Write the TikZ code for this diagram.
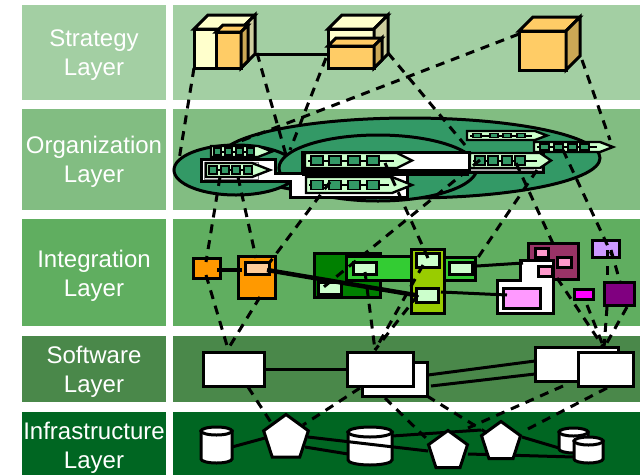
\documentclass[tikz,border=0pt]{standalone}
\usepackage{fontspec}
\setmainfont{Liberation Sans}
\usetikzlibrary{shapes.geometric,calc}
\definecolor{strategyc}{HTML}{A3CFA3}
\definecolor{orgc}{HTML}{82BD82}
\definecolor{integc}{HTML}{60AE60}
\definecolor{softc}{HTML}{4A884A}
\definecolor{infrac}{HTML}{006622}
\definecolor{ellipc}{HTML}{339966}
\definecolor{palec}{HTML}{CCFFCC}
\definecolor{creamc}{HTML}{FFFFCC}
\definecolor{creamd}{HTML}{CFCF9F}
\definecolor{goldc}{HTML}{FFCC66}
\definecolor{goldd}{HTML}{CCA855}
\definecolor{orangec}{HTML}{FF9900}
\definecolor{peachc}{HTML}{FFCC99}
\definecolor{darkgc}{HTML}{008000}
\definecolor{brightgc}{HTML}{33CC33}
\definecolor{limec}{HTML}{99CC00}
\definecolor{maroonc}{HTML}{993366}
\definecolor{pinkc}{HTML}{FF99CC}
\definecolor{orchidc}{HTML}{FF99FF}
\definecolor{lilacc}{HTML}{CC99FF}
\definecolor{magc}{HTML}{FF00FF}
\definecolor{plumc}{HTML}{800080}
\tikzset{
  layerlabel/.style={text=white,align=center,font=\fontsize{24}{29.5}\selectfont},
  band/.style={inner sep=0,outer sep=0},
  block/.style={draw=black,line width=3pt,inner sep=0,outer sep=0},
  chainsq/.style={draw=black,fill=ellipc,line width=1.8pt,inner sep=0,outer sep=0},
  trace/.style={draw=black,line width=3pt,dash pattern=on 9pt off 7pt},
  link/.style={draw=black,line width=3pt},
  thicklink/.style={draw=black,line width=4.5pt},
  pent/.style={regular polygon,regular polygon sides=5,block,fill=white},
}
\newcommand{\boxnode}[6]{\node[#2,anchor=north west,minimum width={#5-#3},minimum height={#6-#4}] (#1) at (#3,#4) {};}
\newcommand{\cubenode}[8]{%
  \boxnode{#1}{block,fill=#7}{#2}{#3}{#4}{#5}
  \draw[block,fill=#7] (#1.north west) -- ++(#6,-#6) -| ($(#1.north east)+(#6,-#6)$) -- (#1.north east) -- cycle;
  \draw[block,fill=#8] (#1.north east) -- ++(#6,-#6) -- ++(0,{#5-#3}) -- (#1.south east) -- cycle;}
\newcommand{\procchain}[9]{%
  \coordinate (#1) at (#2,{(#3+#4)/2});
  \draw[block,line width=2.4pt,fill=palec] (#2,#3) -- (#5,#3) -- (#6,{(#3+#4)/2}) -- (#5,#4) -- (#2,#4) -- cycle;
  \draw[black,line width=2pt] (#2,{(#3+#4)/2}) ++(3,0) -- ({#5-3},{(#3+#4)/2});
  \foreach \sqx in {#7}
    \node[chainsq,anchor=west,minimum width=#8,minimum height=#9] at (\sqx,{(#3+#4)/2}) {};}
% name, left, top, right, bottom, rim height
\newcommand{\storenode}[6]{%
  \boxnode{#1}{band}{#2}{#3}{#4}{#5}
  \draw[block,fill=white] (#2,{#3+#6}) -- (#2,{#5-#6})
    arc[start angle=180,end angle=0,x radius={(#4-#2)/2},y radius=#6] -- (#4,{#3+#6}) -- cycle;
  \draw[block,fill=white] ({(#2+#4)/2},{#3+#6}) ellipse[x radius={(#4-#2)/2},y radius=#6];}
\begin{document}
\begin{tikzpicture}[x=1pt,y=-1pt]
\useasboundingbox (0,0) rectangle (640,475);
% layer bands
\boxnode{stratL}{band,fill=strategyc}{22}{5}{166}{100}
\boxnode{stratR}{band,fill=strategyc}{173}{5}{640}{100}
\boxnode{orgL}{band,fill=orgc}{22}{109}{166}{210}
\boxnode{orgR}{band,fill=orgc}{173}{109}{640}{210}
\boxnode{integL}{band,fill=integc}{22}{219}{166}{326}
\boxnode{integR}{band,fill=integc}{173}{219}{640}{326}
\boxnode{softL}{band,fill=softc}{22}{336}{166}{402}
\boxnode{softR}{band,fill=softc}{173}{336}{640}{402}
\boxnode{infraL}{band,fill=infrac}{22}{412}{166}{475}
\boxnode{infraR}{band,fill=infrac}{173}{412}{640}{475}
\node[layerlabel] (stratT) at (94,55) {Strategy\\Layer};
\node[layerlabel] (orgT) at (94,162) {Organization\\Layer};
\node[layerlabel] (integT) at (94,276) {Integration\\Layer};
\node[layerlabel] (softT) at (94,372) {Software\\Layer};
\node[layerlabel] (infraT) at (94,448) {Infrastructure\\Layer};
% strategy
\cubenode{cubeA}{194}{29}{241}{68}{14}{creamc}{creamd}
\cubenode{cubeAin}{216}{32}{241}{68}{7}{goldc}{goldd}
\cubenode{cubeB}{328}{29}{374}{68}{14}{creamc}{creamd}
\cubenode{cubeBin}{328}{46}{374}{68}{8}{goldc}{goldd}
\cubenode{cubeC}{519}{31}{566}{70}{14}{goldc}{goldd}
\coordinate (cubeArear) at (255,54);
\draw[link] (cubeArear) -- (cubeB.west |- cubeArear);
% organization
\node[ellipse,block,fill=ellipc,minimum width=380,minimum height=80] (orgbig) at (410,158) {};
\node[ellipse,block,fill=ellipc,minimum width=124,minimum height=50] (orgleft) at (236,170) {};
\node[ellipse,block,fill=ellipc,minimum width=198,minimum height=66] (orgmid) at (378,168) {};
\boxnode{groupup}{block,fill=white}{302}{152}{469}{172}
\draw[block,fill=white] (201,159) -- (275,159) -- (275,173) -- (407,173) -- (407,197) -- (290,197) -- (290,181) -- (201,181) -- cycle;
\fill[black] (302,169) rectangle (469,176);
\boxnode{chainBback}{draw=gray,line width=1pt,inner sep=0}{203.5}{161.5}{258}{179}
\boxnode{chainGback}{block,fill=gray!60}{469}{153}{543}{172}
\fill[white] (534,166) rectangle (541,170);
\procchain{chainA}{211}{146}{157}{258}{272}{214,225,236,247}{7}{7}
\procchain{chainB}{206}{163}{177}{252}{270}{209,221,232,244}{8}{8}
\procchain{chainC}{305}{153}{168}{397}{412}{311,329,348,367}{12}{9}
\procchain{chainD}{306}{177}{193}{392}{412}{311,329,348,367}{12}{9}
\procchain{chainE}{467}{131}{140}{535}{547}{473,490,503,517}{8}{4}
\procchain{chainF}{534}{142}{152}{600}{613}{540,554,568,580}{9}{6}
\procchain{chainG}{470}{153}{168}{540}{551}{475,488,502,515}{10}{9}
% integration
\boxnode{orangeS}{block,fill=orangec}{193}{258}{220}{278}
\boxnode{orangeB}{block,fill=orangec}{238}{256}{275}{298}
\boxnode{orangeIn}{block,fill=peachc}{245}{262}{269}{274}
\boxnode{greenD}{block,fill=darkgc}{314}{253}{380}{297}
\boxnode{greenB}{block,fill=brightgc}{346}{256}{414}{280}
\boxnode{greenIn}{block,fill=palec}{353}{262}{376}{274}
\boxnode{greenLow}{block,fill=palec}{318}{282}{341}{294}
\boxnode{limeB}{block,fill=limec}{411}{249}{444}{313}
\boxnode{limeA}{block,fill=palec}{416}{253}{439}{267}
\boxnode{limeC}{block,fill=palec}{416}{288}{438}{302}
\boxnode{greenR}{block,fill=brightgc}{444}{257}{475}{280}
\boxnode{greenRin}{block,fill=palec}{449}{262}{472}{274}
\boxnode{maroon}{block,fill=maroonc}{528}{243}{578}{279}
\boxnode{pinkA}{block,fill=pinkc}{535}{248}{548}{257}
\boxnode{pinkB}{block,fill=pinkc}{557}{257}{571}{267}
\draw[block,fill=white] (520,260) -- (553,260) -- (553,313) -- (497,313) -- (497,280) -- (520,280) -- cycle;
\boxnode{pinkC}{block,fill=pinkc}{538}{266}{552}{276}
\boxnode{pinkD}{block,fill=orchidc}{503}{288}{540}{308}
\boxnode{violetb}{block,fill=lilacc}{592}{240}{619}{257}
\boxnode{magbox}{block,fill=magc}{574}{289}{593}{299}
\boxnode{plumbox}{block,fill=plumc}{604}{282}{634}{305}
\coordinate (orangeSend) at (217,270);
\coordinate (orangeInL) at (242,270);
\coordinate (orangeInR) at (267,270);
\coordinate (limeCL) at (415,295);
\coordinate (limeCR) at (441,292);
\coordinate (pinkDL) at (507,295);
\coordinate (greenRR) at (477,266);
\coordinate (whiteTop) at (523,263);
\draw[thicklink] (orangeSend) -- (orangeInL);
\draw[thicklink] (orangeInR) -- (limeCL);
\draw[link] (limeCR) -- (pinkDL);
\draw[link] (greenRR) -- (whiteTop);
% software
\boxnode{softA}{block,fill=white}{203}{352}{264}{386}
\boxnode{softBback}{block,fill=white}{362}{362}{427}{396}
\boxnode{softB}{block,fill=white}{347}{352}{413}{386}
\boxnode{softCback}{block,fill=white}{535}{347}{618}{381}
\boxnode{softC}{block,fill=white}{578}{352}{633}{386}
\coordinate (softBR) at (428,375);
\coordinate (softBL) at (431,386);
\coordinate (softCa) at (535,361);
\coordinate (softCb) at (535,374);
\draw[link] (softA) -- (softB);
\draw[link] (softBR) -- (softCa);
\draw[link] (softBL) -- (softCb);
% infrastructure
\coordinate (pentAr) at (308,437);
\coordinate (pentAq) at (305,447);
\coordinate (pentBl) at (428,451);
\coordinate (storeBl) at (348,454);
\coordinate (storeBr) at (392,436);
\coordinate (pentCl) at (481,430);
\coordinate (pentBr) at (468,454);
\coordinate (storeDl) at (574,457);
\coordinate (pentCr) at (522,437);
\coordinate (storeCl) at (559,448);
\coordinate (storeAr) at (232,447);
\coordinate (pentAl) at (265,438);
\draw[link] (storeAr) -- (pentAl);
\draw[link] (pentAq) -- (storeBl);
\draw[link] (storeBr) -- (pentCl);
\draw[link] (pentBr) -- (storeDl);
\draw[link] (pentCr) -- (storeCl);
\storenode{storeA}{201}{427}{232}{463}{4}
\storenode{storeB}{348}{427}{392}{465}{5}
\draw[link] (pentAr) -- (pentBl);
\node[pent,minimum size=47] (pentA) at (286,438) {};
\node[pent,minimum size=41] (pentB) at (448,451) {};
\node[pent,minimum size=41] (pentC) at (501,442) {};
\storenode{storeC}{559}{428}{588}{453}{4}
\storenode{storeD}{574}{437}{603}{463}{4}
% dashed traces
\coordinate (t01) at (194,68);   \coordinate (t02) at (179,160);
\coordinate (t03) at (257,53);   \coordinate (t04) at (286,155);
\coordinate (t05) at (326,58);   \coordinate (t06) at (290,150);
\coordinate (t07) at (519,34);   \coordinate (t08) at (233,144);
\coordinate (t09) at (388,53);   \coordinate (t10) at (465,145);
\coordinate (t11) at (582,60);   \coordinate (t12) at (610,140);
\coordinate (t13) at (220,177);  \coordinate (t14) at (206,262);
\coordinate (t15) at (206,275);  \coordinate (t16) at (228,349);
\coordinate (t17) at (238,177);  \coordinate (t18) at (256,258);
\coordinate (t19) at (260,297);  \coordinate (t20) at (330,182);
\coordinate (t21) at (270,262);  \coordinate (t22) at (385,163);
\coordinate (t23) at (428,258);  \coordinate (t24) at (480,160);
\coordinate (t25) at (320,290);  \coordinate (t26) at (516,163);
\coordinate (t27) at (555,248);  \coordinate (t28) at (537,170);
\coordinate (t29) at (475,262);  \coordinate (t30) at (563,150);
\coordinate (t31) at (612,255);  \coordinate (t32) at (423,265);
\coordinate (t33) at (375,350);  \coordinate (t34) at (418,295);
\coordinate (t35) at (365,272);  \coordinate (t36) at (557,278);
\coordinate (t37) at (604,348);  \coordinate (t38) at (587,305);
\coordinate (t39) at (607,307);  \coordinate (t40) at (627,307);
\coordinate (t41) at (607,250);  \coordinate (t42) at (607,282);
\coordinate (t43) at (611,250);  \coordinate (t44) at (620,282);
\coordinate (t45) at (248,387);  \coordinate (t46) at (272,424);
\coordinate (t47) at (360,388);  \coordinate (t48) at (303,425);
\coordinate (t49) at (385,398);  \coordinate (t50) at (430,442);
\coordinate (t51) at (563,386);  \coordinate (t52) at (468,428);
\coordinate (t53) at (607,388);  \coordinate (t54) at (522,432);
\coordinate (t55) at (427,396);  \coordinate (t56) at (487,433);
\path[trace]
  (t01) edge (t02)
  (t03) edge (t04)
  (t05) edge (t06)
  (t07) edge (t08)
  (t09) edge (t10)
  (t11) edge (t12)
  (t13) edge (t14)
  (t15) edge (t16)
  (t17) edge (t18)
  (t19) edge (t16)
  (t20) edge (t21)
  (t22) edge (t23)
  (t24) edge (t25)
  (t26) edge (t27)
  (t28) edge (t29)
  (t30) edge (t31)
  (t32) edge (t33)
  (t34) edge (t33)
  (t35) edge (t33)
  (t36) edge (t37)
  (t38) edge (t37)
  (t39) edge (t37)
  (t40) edge (t37)
  (t41) edge (t42)
  (t43) edge (t44)
  (t45) edge (t46)
  (t47) edge (t48)
  (t49) edge (t50)
  (t51) edge (t52)
  (t53) edge (t54)
  (t55) edge (t56);
\end{tikzpicture}
\end{document}
